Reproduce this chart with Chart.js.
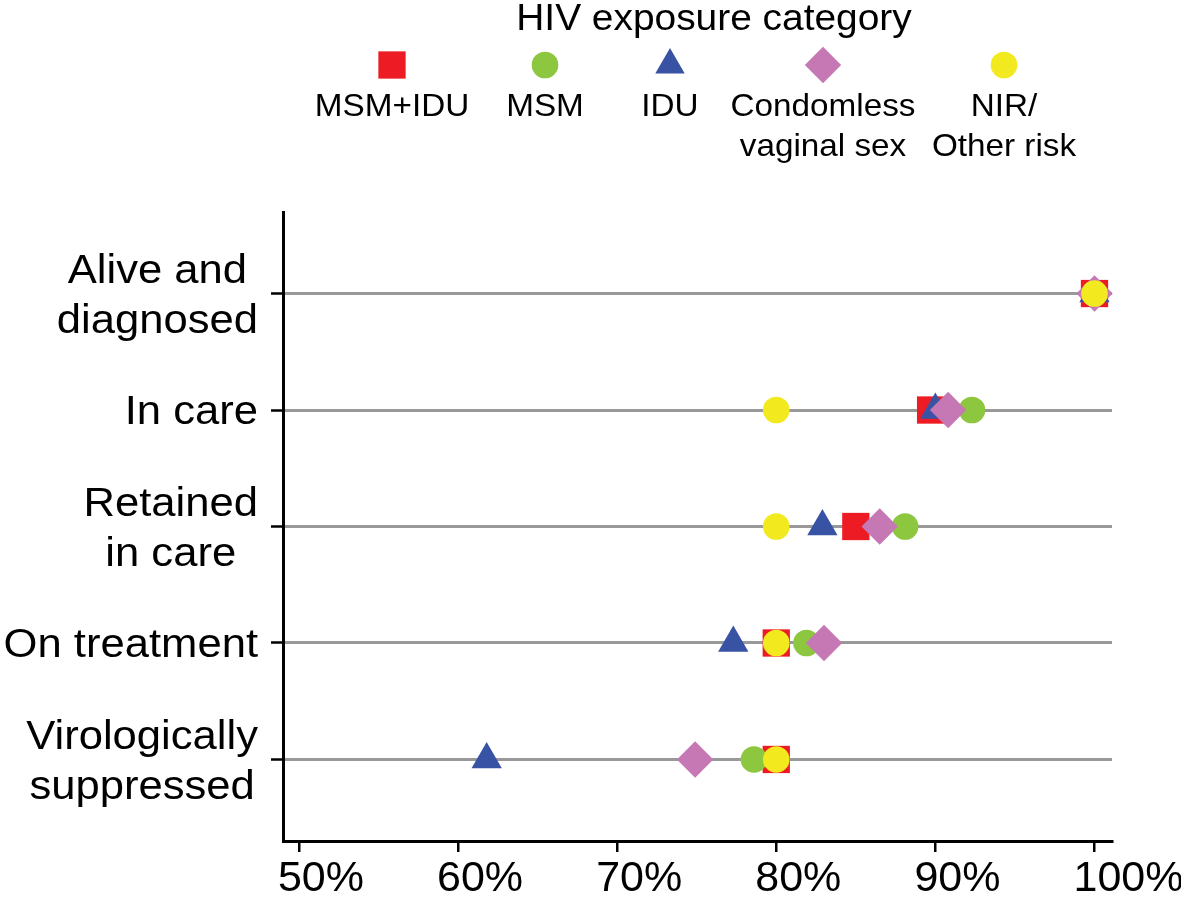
<!DOCTYPE html>
<html>
<head>
<meta charset="utf-8">
<script src="https://cdn.jsdelivr.net/npm/chart.js@4.4.0/dist/chart.umd.min.js"></script>
<style>
  html, body { margin: 0; padding: 0; background: #fff; }
  #wrap { width: 1181px; height: 897px; position: relative; }
</style>
</head>
<body>
<div id="wrap"><canvas id="chart"></canvas></div>
<script>
const stages = [['Alive and', 'diagnosed'], ['In care'], ['Retained', 'in care'], ['On treatment'], ['Virologically', 'suppressed']]
const xTicks = [50, 60, 70, 80, 90, 100]

// percent, one value per stage (top to bottom)
const msmIdu = [100, 89.7, 85.0, 80.0, 80.0]
const msm = [100, 92.3, 88.1, 81.9, 78.6]
const idu = [100, 90.0, 82.9, 77.3, 61.8]
const condomless = [100, 90.8, 86.5, 83.0, 74.9]
const nirOther = [100, 80.0, 80.0, 80.0, 80.0]

const groupNames = [['MSM+IDU'], ['MSM'], ['IDU'], ['Condomless', 'vaginal sex'], ['NIR/', 'Other risk']]
const groupValues = [msmIdu, msm, idu, condomless, nirOther]
const groupStyles = ['rect', 'circle', 'triangle', 'rectRot', 'circle']
const groupRadius = [19.3, 13.3, 17.5, 18.2, 13.3]
const groupColors = ['#ED1C24', '#8DC63F', '#3953A4', '#C678B4', '#F2EA1E']

const FONT = 'Liberation Sans, Arial, Helvetica, sans-serif'

function stretchText(ctx, text, x, y, sx, align){
  ctx.save()
  ctx.translate(x, y)
  ctx.scale(sx, 1)
  ctx.textAlign = align
  ctx.fillText(text, 0, 0)
  ctx.restore()
}

// legend on top + category labels at the left
const extras = {
  id: 'extras',
  afterDraw(chart){
    const ctx = chart.ctx
    ctx.save()
    ctx.fillStyle = '#000'
    ctx.textBaseline = 'alphabetic'

    ctx.font = '36px ' + FONT
    stretchText(ctx, 'HIV exposure category', 714, 30, 1.08, 'center')

    const legendX = [392, 545, 670, 823, 1004]
    groupNames.forEach((lines, i) => {
      ctx.fillStyle = groupColors[i]
      Chart.helpers.drawPoint(ctx, {
        pointStyle: groupStyles[i],
        radius: i === 2 ? 17 : groupRadius[i],
        rotation: 0,
        borderWidth: 0,
      }, legendX[i], 65)
      ctx.fillStyle = '#000'
      ctx.font = '32px ' + FONT
      lines.forEach((t, k) => stretchText(ctx, t, legendX[i], 116 + k * 40, 1.04, 'center'))
    })

    const yScale = chart.scales.y
    const size = 40, sx = 1.09, right = 258, gap = 50
    ctx.font = size + 'px ' + FONT
    stages.forEach((lines, i) => {
      const yc = yScale.getPixelForValue(i)
      const blockW = Math.max(...lines.map(t => ctx.measureText(t).width * sx))
      const cx = right - blockW / 2
      const first = yc - (lines.length - 1) * gap / 2 + size * 0.358
      lines.forEach((t, k) => stretchText(ctx, t, cx, first + k * gap, sx, 'center'))
    })
    ctx.restore()
  }
}

const datasets = groupNames.map((name, i) => ({
  label: name.join(' '),
  data: groupValues[i].map((v, k) => ({ x: v, y: k })),
  pointStyle: groupStyles[i],
  pointRadius: groupRadius[i],
  pointHoverRadius: groupRadius[i],
  backgroundColor: groupColors[i],
  pointBackgroundColor: groupColors[i],
  pointBorderWidth: 0,
  showLine: false,
  clip: false,
  // NIR drawn on top, MSM+IDU at the bottom
  order: groupNames.length - 1 - i,
}))

new Chart(document.getElementById('chart'), {
  type: 'scatter',
  data: { datasets: datasets },
  options: {
    responsive: true,
    maintainAspectRatio: false,
    animation: false,
    events: [],
    layout: { padding: { top: 212, right: 69, left: 0, bottom: 0 } },
    plugins: {
      legend: { display: false },
      tooltip: { enabled: false },
    },
    scales: {
      x: {
        type: 'linear',
        position: 'bottom',
        min: 49,
        max: 101.1,
        afterBuildTicks: s => { s.ticks = xTicks.map(v => ({ value: v })) },
        afterFit: s => { s.height = 56; s.paddingLeft = 0; s.paddingRight = 0 },
        grid: { drawOnChartArea: false, color: '#000', lineWidth: 2.5, tickLength: 11 },
        border: { color: '#000', width: 3 },
        ticks: {
          font: { family: FONT, size: 43 },
          color: '#000',
          align: 'start',
          labelOffset: -21,
          padding: 1,
          maxRotation: 0,
          autoSkip: false,
          callback: v => v + '%',
        },
      },
      y: {
        type: 'linear',
        reverse: true,
        min: -0.7,
        max: 4.7,
        afterBuildTicks: s => { s.ticks = stages.map((_, i) => ({ value: i })) },
        afterFit: s => { s.width = 283; s.paddingTop = 0; s.paddingBottom = 0 },
        grid: { color: '#999', lineWidth: 3, tickColor: '#000', tickWidth: 2.5, tickLength: 12 },
        border: { color: '#000', width: 3 },
        ticks: { display: false },
      },
    },
  },
  plugins: [extras],
})
</script>
</body>
</html>
